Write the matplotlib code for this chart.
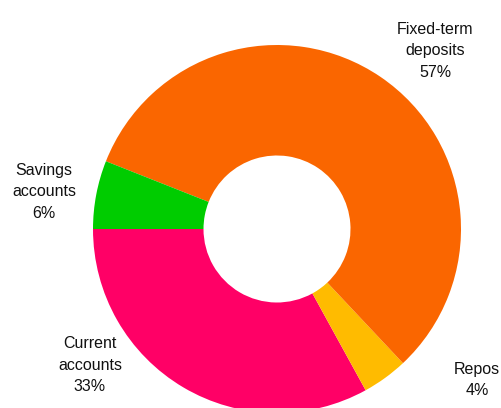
import matplotlib

matplotlib.use("Agg")
import matplotlib.pyplot as plt  # noqa: E402

# deposit structure, shares in percent (drawn counterclockwise from 9 o'clock)
labels = ["Current\naccounts", "Repos", "Fixed-term\ndeposits", "Savings\naccounts"]
shares = [33, 4, 57, 6]
colors = ["#FF0066", "#FFBB00", "#FA6600", "#00CC00"]

W, H = 502, 408

fig = plt.figure(figsize=(W / 100, H / 100), dpi=100)
ax = fig.add_axes([0, 0, 1, 1])

cx, cy = 277, H - 229
r_out, r_in = 184, 73.5
ax.pie(shares, colors=colors, startangle=180, counterclock=True,
       center=(cx, cy), radius=r_out, frame=True,
       wedgeprops=dict(width=r_out - r_in, linewidth=0))

# label positions in pixel coords (from top-left)
label_pos = [(90, 365), (477, 380), (435, 51), (44, 192)]
for lab, val, (x, y) in zip(labels, shares, label_pos):
    ax.text(x, H - y, f"{lab}\n{val}%", ha="center", va="center",
            fontsize=11.5, family="Liberation Sans", linespacing=1.55,
            color="#111111")

ax.set_xlim(0, W)
ax.set_ylim(0, H)
ax.set_aspect("equal")
ax.axis("off")

fig.savefig("out.png", dpi=100)
